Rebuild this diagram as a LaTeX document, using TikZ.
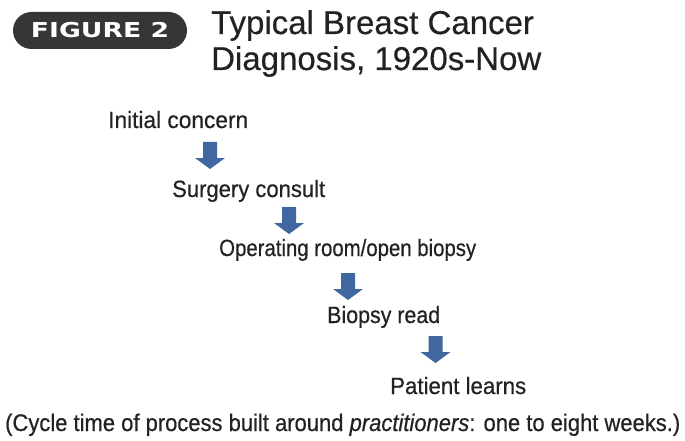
\documentclass[tikz,border=0pt]{standalone}
\usepackage{fontspec}
\usepackage{graphicx}
\setmainfont{Liberation Sans}
\newfontfamily\badgefont{DejaVu Sans}
\newfontfamily\stepfont[FakeBold=0.6]{Liberation Sans}
\newfontfamily\titlefont[FakeBold=0.4]{Liberation Sans}
\definecolor{arrowblue}{HTML}{40679F}
\definecolor{badgegray}{HTML}{363636}
\definecolor{textgray}{HTML}{222222}
\newcommand{\fitw}[2]{\resizebox{#1pt}{\height}{#2}}
\tikzset{
  steptext/.style={anchor=base west, inner sep=0pt, text=textgray, font=\stepfont\fontsize{23.5}{25}\selectfont},
  titletext/.style={anchor=base west, inner sep=0pt, text=textgray, font=\titlefont\fontsize{33}{36}\selectfont},
  downarrow/.pic={\fill[arrowblue] (-7,0) -- (7,0) -- (7,16) -- (15,16) -- (0,27) -- (-15,16) -- (-7,16) -- cycle;}
}
\begin{document}
\begin{tikzpicture}[x=1pt,y=-1pt]
\useasboundingbox (0,0) rectangle (685,441);
% badge
\node[fill=badgegray, rounded corners=18.5pt, minimum width=174pt, minimum height=37pt, inner sep=0pt,
      text=white, font=\badgefont\bfseries\fontsize{20.5}{22}\selectfont] (badge) at (100,30.5)
      {\scalebox{1.3}[1]{FIGURE 2}};
% title
\node[titletext] (title1) at (211,34) {Typical Breast Cancer};
\node[titletext] (title2) at (211,70) {Diagnosis, 1920s-Now};
% steps
\node[steptext] (s1) at (108,128) {\fitw{140}{Initial concern}};
\node[steptext] (s2) at (172,197) {\fitw{153}{Surgery consult}};
\node[steptext] (s3) at (219,256) {\fitw{257}{Operating room/open biopsy}};
\node[steptext] (s4) at (327,323) {\fitw{113}{Biopsy read}};
\node[steptext] (s5) at (390,394) {\fitw{136}{Patient learns}};
% arrows
\coordinate (a1) at (210,142);
\coordinate (a2) at (289,207);
\coordinate (a3) at (348,273);
\coordinate (a4) at (435.5,336);
\pic at (a1) {downarrow};
\pic at (a2) {downarrow};
\pic at (a3) {downarrow};
\pic at (a4) {downarrow};
% note
\node[anchor=base west, inner sep=0pt, text=textgray, font=\stepfont\fontsize{24}{26}\selectfont] (note) at (5,431)
  {\fitw{675}{(Cycle time of process built around \textit{practitioners}: one to eight weeks.)}};
\end{tikzpicture}
\end{document}
